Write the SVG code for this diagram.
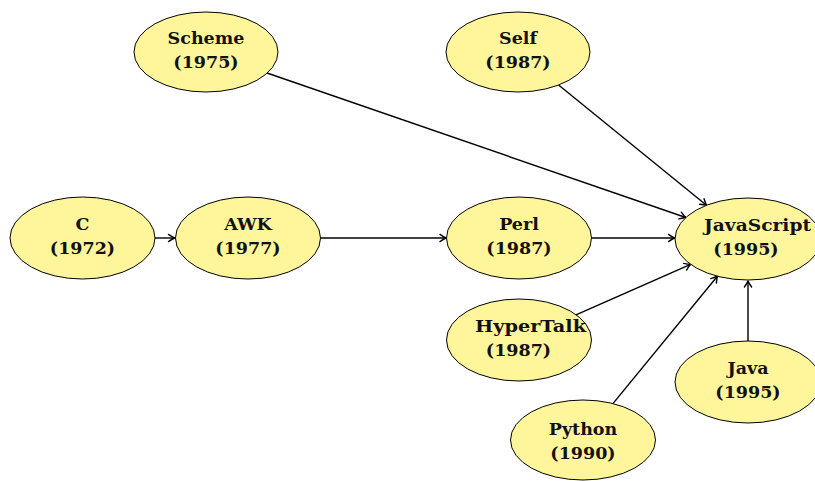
<svg xmlns="http://www.w3.org/2000/svg" width="815" height="481" viewBox="0 0 815 481">
<defs>
<style>
.n ellipse{fill:#fff59a;stroke:#000;stroke-width:1}
.n text{font-family:"DejaVu Serif","Liberation Serif",serif;font-weight:bold;font-size:17.5px;fill:#111;text-anchor:middle}
.n text.l{text-anchor:start}
.e line{stroke:#000;stroke-width:1.4;fill:none;marker-end:url(#ah)}
</style>
<marker id="ah" markerUnits="userSpaceOnUse" markerWidth="12" markerHeight="12" viewBox="-8 -6 10 12" refX="0" refY="0" orient="auto">
<path d="M-6,-3.6 Q-2,-0.8 0,0 Q-2,0.8 -6,3.6" fill="none" stroke="#000" stroke-width="1.4" stroke-linecap="round" stroke-linejoin="round"/>
</marker>
</defs>
<rect width="815" height="481" fill="#fff"/>
<g class="e" id="edges">
<line x1="155" y1="238" x2="174.5" y2="238"/>
<line x1="320.5" y1="238" x2="446" y2="238"/>
<line x1="592" y1="238" x2="674.5" y2="238"/>
<line x1="267" y1="73" x2="685.8" y2="217.5"/>
<line x1="558.6" y1="85" x2="706.5" y2="205.3"/>
<line x1="575.4" y1="315.1" x2="690.6" y2="264.3"/>
<line x1="612.9" y1="403.6" x2="717.4" y2="276.2"/>
<line x1="748" y1="341" x2="748" y2="281"/>
</g>
<g class="n" id="scheme"><ellipse cx="206" cy="52" rx="72" ry="40"/><text x="206" y="44">Scheme</text><text x="206" y="68">(1975)</text></g>
<g class="n" id="self"><ellipse cx="518" cy="52" rx="72" ry="40"/><text x="518" y="44">Self</text><text x="518" y="68">(1987)</text></g>
<g class="n" id="c"><ellipse cx="82.5" cy="238" rx="72.5" ry="41"/><text x="82.5" y="230">C</text><text x="82.5" y="254">(1972)</text></g>
<g class="n" id="awk"><ellipse cx="248" cy="238" rx="72.5" ry="41"/><text x="248" y="230">AWK</text><text x="248" y="254">(1977)</text></g>
<g class="n" id="perl"><ellipse cx="519" cy="238" rx="72.5" ry="41"/><text x="519" y="230">Perl</text><text x="519" y="254">(1987)</text></g>
<g class="n" id="javascript"><ellipse cx="748" cy="239" rx="73" ry="41"/><text class="l" x="704" y="231" textLength="107" lengthAdjust="spacingAndGlyphs">JavaScript</text><text x="746" y="255">(1995)</text></g>
<g class="n" id="hypertalk"><ellipse cx="519" cy="340" rx="72.5" ry="41"/><text class="l" x="475" y="332" textLength="111" lengthAdjust="spacingAndGlyphs">HyperTalk</text><text x="518.5" y="356">(1987)</text></g>
<g class="n" id="python"><ellipse cx="583" cy="440" rx="72.5" ry="40"/><text x="583" y="435">Python</text><text x="583" y="459">(1990)</text></g>
<g class="n" id="java"><ellipse cx="748" cy="382" rx="73" ry="41"/><text x="748" y="374">Java</text><text x="748" y="398">(1995)</text></g>
</svg>
